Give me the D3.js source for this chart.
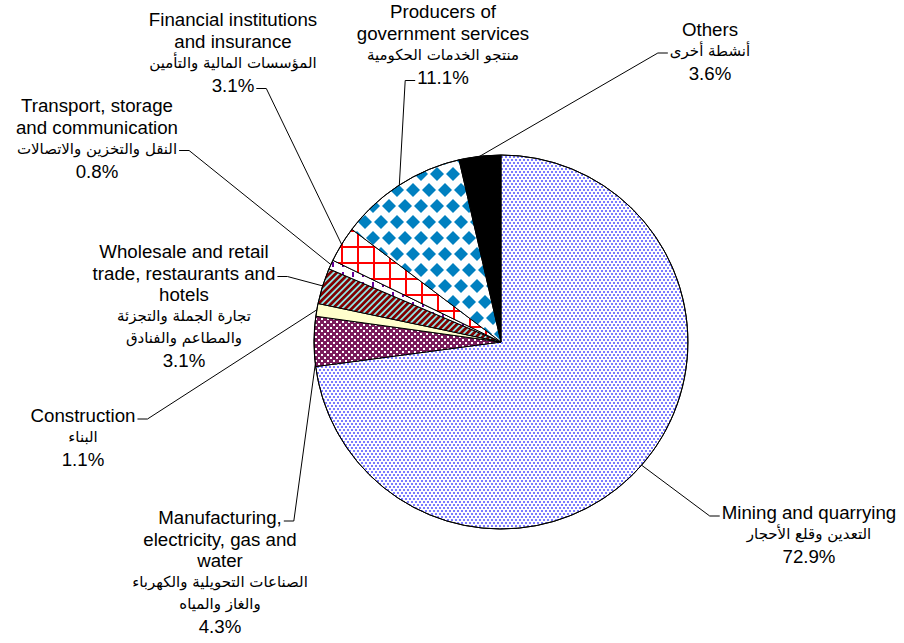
<!DOCTYPE html>
<html>
<head>
<meta charset="utf-8">
<script src="https://cdnjs.cloudflare.com/ajax/libs/d3/7.8.5/d3.min.js"></script>
<style>
  body { margin: 0; background: #fff; }
  svg text { font-family: "Liberation Sans", Arial, sans-serif; fill: #000; }
  svg text.ar { font-family: "DejaVu Sans", sans-serif; }
</style>
</head>
<body>
<div id="chart"></div>
<script>
var svgWidth = 904;
var svgHeight = 643;

// Data (share of GDP by sector, %)
var sectors = ["Mining and quarrying", "Manufacturing, electricity, gas and water", "Construction",
  "Wholesale and retail trade, restaurants and hotels", "Transport, storage and communication",
  "Financial institutions and insurance", "Producers of government services", "Others"];
var shares = [72.9, 4.3, 1.1, 3.1, 0.8, 3.1, 11.1, 3.6];
var labelsEn = [
  ["Mining and quarrying"],
  ["Manufacturing,", "electricity, gas and", "water"],
  ["Construction"],
  ["Wholesale and retail", "trade, restaurants and", "hotels"],
  ["Transport, storage", "and communication"],
  ["Financial institutions", "and insurance"],
  ["Producers of", "government services"],
  ["Others"]
];
var labelsAr = [
  ["التعدين وقلع الأحجار"],
  ["الصناعات التحويلية والكهرباء", "والغاز والمياه"],
  ["البناء"],
  ["تجارة الجملة والتجزئة", "والمطاعم والفنادق"],
  ["النقل والتخزين والاتصالات"],
  ["المؤسسات المالية والتأمين"],
  ["منتجو الخدمات الحكومية"],
  ["أنشطة أخرى"]
];

// label placement: centre x, first baseline, which line the leader hooks on and from which side,
// and where along the slice (0 = start, 0.5 = middle) the leader touches the pie
var labelLayout = [
  {cx: 809, y: 519, hook: 0, side: "left",  at: 0.5},
  {cx: 220, y: 524, hook: 0, side: "right", at: 0.05},
  {cx: 83,  y: 422, hook: 0, side: "right", at: 0.5},
  {cx: 184, y: 258, hook: 1, side: "right", at: 0.5},
  {cx: 97,  y: 112, hook: 2, side: "right", at: 0.5},
  {cx: 233, y: 26,  hook: 3, side: "right", at: 0.5},
  {cx: 443, y: 18,  hook: 3, side: "left",  at: 0.5},
  {cx: 710, y: 36,  hook: 1, side: "left",  at: 0.5}
];

var cx = 501, cy = 342, radius = 187;

var svg = d3.select("#chart")
  .append("svg")
  .attr("width", svgWidth)
  .attr("height", svgHeight);

// Patterns
var defs = svg.append("defs");

var p = defs.append("pattern").attr("id", "pMining").attr("patternUnits", "userSpaceOnUse")
  .attr("width", 4).attr("height", 6);
p.append("rect").attr("width", 4).attr("height", 6).attr("fill", "#fff");
p.append("rect").attr("x", 0).attr("y", 0).attr("width", 2).attr("height", 2).attr("fill", "#7b7bff");
p.append("rect").attr("x", 2).attr("y", 3).attr("width", 2).attr("height", 2).attr("fill", "#7b7bff");

p = defs.append("pattern").attr("id", "pManuf").attr("patternUnits", "userSpaceOnUse")
  .attr("width", 6).attr("height", 6);
p.append("rect").attr("width", 6).attr("height", 6).attr("fill", "#7a1c5c");
p.append("rect").attr("x", 0).attr("y", 0).attr("width", 2).attr("height", 2).attr("fill", "#fff");
p.append("rect").attr("x", 3).attr("y", 3).attr("width", 2).attr("height", 2).attr("fill", "#fff");

p = defs.append("pattern").attr("id", "pTrade").attr("patternUnits", "userSpaceOnUse")
  .attr("width", 4.5).attr("height", 4.5).attr("patternTransform", "rotate(45)");
p.append("rect").attr("width", 4.5).attr("height", 4.5).attr("fill", "#8fe3e3");
p.append("rect").attr("width", 2.7).attr("height", 4.5).attr("fill", "#800000");

p = defs.append("pattern").attr("id", "pTransport").attr("patternUnits", "userSpaceOnUse")
  .attr("width", 10).attr("height", 10);
p.append("rect").attr("width", 10).attr("height", 10).attr("fill", "#fff");
p.append("rect").attr("x", 1).attr("y", 0).attr("width", 2).attr("height", 5).attr("fill", "#660099");

p = defs.append("pattern").attr("id", "pFinance").attr("patternUnits", "userSpaceOnUse")
  .attr("width", 16).attr("height", 16);
p.append("rect").attr("width", 16).attr("height", 16).attr("fill", "#fff");
p.append("rect").attr("x", 0).attr("y", 0).attr("width", 16).attr("height", 2).attr("fill", "#ff0000");
p.append("rect").attr("x", 0).attr("y", 0).attr("width", 2).attr("height", 16).attr("fill", "#ff0000");

p = defs.append("pattern").attr("id", "pGov").attr("patternUnits", "userSpaceOnUse")
  .attr("width", 16).attr("height", 32);
p.append("rect").attr("width", 16).attr("height", 32).attr("fill", "#fff");
[[8, 8], [0, 24], [16, 24]].forEach(function(c) {
  var h = 7;
  p.append("polygon")
    .attr("points", [[c[0], c[1] - h], [c[0] + h, c[1]], [c[0], c[1] + h], [c[0] - h, c[1]]].join(" "))
    .attr("fill", "#0080c0");
});

var fills = ["url(#pMining)", "url(#pManuf)", "#ffffcc", "url(#pTrade)", "url(#pTransport)",
  "url(#pFinance)", "url(#pGov)", "#000"];

// Pie
var pie = d3.pie().sort(null).value(function(d) { return d; });
var arcs = pie(shares);
var arc = d3.arc().innerRadius(0).outerRadius(radius);

var chartGroup = svg.append("g")
  .attr("transform", `translate(${cx}, ${cy})`);

chartGroup.selectAll("path")
  .data(arcs)
  .enter()
  .append("path")
  .attr("d", arc)
  .attr("fill", function(d, i) { return fills[i]; })
  .attr("stroke", "#000")
  .attr("stroke-width", 1);

chartGroup.append("circle")
  .attr("r", radius)
  .attr("fill", "none")
  .attr("stroke", "#000")
  .attr("stroke-width", 1);

// Labels
var gapEnEn = 21.5, gapEnAr = 20, gapArAr = 21.5, gapArPct = 24;
var labelGroup = svg.append("g");

arcs.forEach(function(d, i) {
  var lay = labelLayout[i];
  var lines = [];
  labelsEn[i].forEach(function(t) { lines.push({text: t, ar: false}); });
  labelsAr[i].forEach(function(t) { lines.push({text: t, ar: true}); });
  lines.push({text: d3.format(".1f")(shares[i]) + "%", ar: false, pct: true});

  var y = lay.y;
  lines.forEach(function(l, k) {
    if (k > 0) {
      var prev = lines[k - 1];
      if (l.pct) y += prev.ar ? gapArPct : gapEnEn;
      else if (l.ar) y += prev.ar ? gapArAr : gapEnAr;
      else y += gapEnEn;
    }
    l.y = y;
    l.node = labelGroup.append("text")
      .attr("class", l.ar ? "ar" : null)
      .attr("x", lay.cx)
      .attr("y", y)
      .attr("text-anchor", "middle")
      .style("font-size", l.ar ? "15px" : "18.7px")
      .text(l.text);
  });

  // leader line: slice edge -> elbow -> end of the hooked line
  var hookLine = lines[lay.hook];
  var w = hookLine.node.node().getComputedTextLength();
  var dir = lay.side === "right" ? 1 : -1;
  var endX = lay.cx + dir * (w / 2 + 2);
  var endY = hookLine.y - 3;
  var elbowX = endX + dir * 10;
  var a = d.startAngle + (d.endAngle - d.startAngle) * lay.at;
  var px = cx + radius * Math.sin(a);
  var py = cy - radius * Math.cos(a);

  labelGroup.append("path")
    .attr("d", d3.line()([[px, py], [elbowX, endY], [endX, endY]]))
    .attr("fill", "none")
    .attr("stroke", "#000")
    .attr("stroke-width", 1);
});
</script>
</body>
</html>
